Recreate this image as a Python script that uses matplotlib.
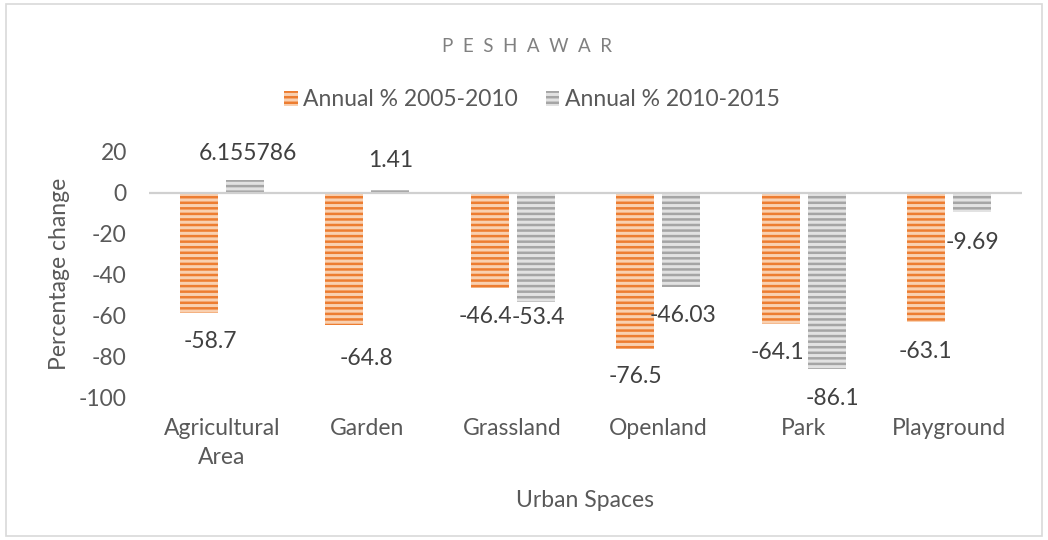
import numpy as np
import matplotlib.pyplot as plt
from matplotlib.patches import Rectangle

plt.rcParams['font.family'] = ['Lato', 'DejaVu Sans']
plt.rcParams['hatch.linewidth'] = 1.8
plt.rcParams['axes.unicode_minus'] = False

# data
categories = ["Agricultural\nArea", "Garden", "Grassland", "Openland", "Park", "Playground"]
series_names = ["Annual % 2005-2010", "Annual % 2010-2015"]
change_2005_2010 = [-58.7, -64.8, -46.4, -76.5, -64.1, -63.1]
change_2010_2015 = [6.155786, 1.41, -53.4, -46.03, -86.1, -9.69]
labels_2005_2010 = ["-58.7", "-64.8", "-46.4", "-76.5", "-64.1", "-63.1"]
labels_2010_2015 = ["6.155786", "1.41", "-53.4", "-46.03", "-86.1", "-9.69"]

# label nudges in pixels (dx, dy), layout only
nudge_a = [(12, 0), (22, 4), (-4, 0), (0, -2), (-3, 0), (-1, 1)]
nudge_b = [(3, 3), (0, 0), (3, -13), (2, 0), (6, 0), (0, 1)]

W, H = 1048, 540
fs = 16.5
fig = plt.figure(figsize=(W / 100, H / 100), dpi=100)
ax = fig.add_axes([149 / W, 1 - 397.5 / H, (1022 - 149) / W, (397.5 - 151.5) / H])

x = np.arange(len(categories))
bw = 0.26
off = 0.158

orange = '#ED7D31'
gray = '#A5A5A5'
bars_a = ax.bar(x - off, change_2005_2010, bw, color='#F9D0B0', edgecolor=orange,
                hatch='---', linewidth=0, label=series_names[0])
bars_b = ax.bar(x + off, change_2010_2015, bw, color='#E2E2E2', edgecolor=gray,
                hatch='---', linewidth=0, label=series_names[1])

ax.axhline(0, color='#D0D0D0', lw=1.6, zorder=3)

ax.set_xlim(-0.5, len(categories) - 0.5)
ax.set_ylim(-100, 20)
ax.set_yticks(np.arange(-100, 21, 20))
ax.set_xticks(x)
ax.set_xticklabels(categories, fontsize=fs, color='#595959', linespacing=1.45)
ax.tick_params(axis='y', length=0, pad=16, labelsize=fs, labelcolor='#595959')
ax.tick_params(axis='x', length=0, pad=15)
for s in ax.spines.values():
    s.set_visible(False)

ax.set_xlabel("Urban Spaces", fontsize=fs, color='#595959', labelpad=16)
fig.text(59 / W, 1 - 274 / H, "Percentage change", rotation=90, ha='center', va='center',
         fontsize=fs, color='#595959')

def put_labels(bars, vals, texts, nudges):
    for b, v, t, (dx, dy) in zip(bars, vals, texts, nudges):
        cx = b.get_x() + b.get_width() / 2
        d = 29 if v >= 0 else -29
        ax.annotate(t, (cx, v), xytext=(dx * 0.72, (d - dy) * 0.72), textcoords='offset points',
                    ha='center', va='center', fontsize=fs, color='#404040')

put_labels(bars_a, change_2005_2010, labels_2005_2010, nudge_a)
put_labels(bars_b, change_2010_2015, labels_2010_2015, nudge_b)

fig.text(527 / W, 1 - 46 / H, "P  E  S  H  A  W  A  R", ha='center', va='center',
         fontsize=13.5, color='#808080')

fig.legend(loc='center', bbox_to_anchor=(532 / W, 1 - 100 / H), ncol=2, frameon=False,
           fontsize=fs, labelcolor='#595959', handlelength=0.6, handleheight=0.6,
           handletextpad=0.25, columnspacing=1.2)

fig.patches.append(Rectangle((6 / W, 4 / H), 1 - 12 / W, 1 - 8 / H, transform=fig.transFigure,
                             fill=False, edgecolor='#D9D9D9', lw=1.2))

plt.savefig("out.png", dpi=100)
